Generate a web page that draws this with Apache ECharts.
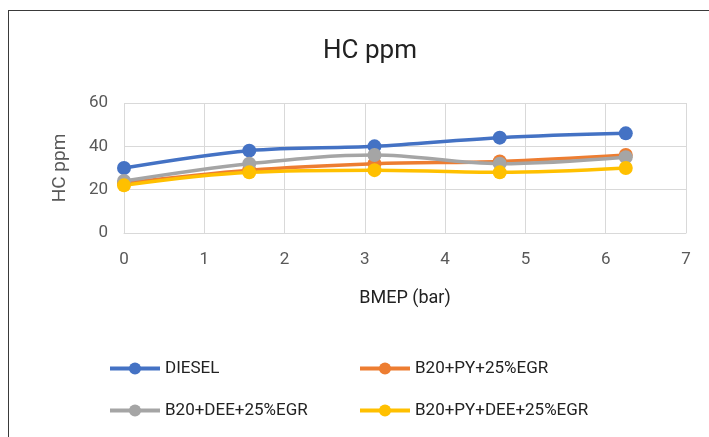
<!DOCTYPE html>
<html>
<head>
<meta charset="utf-8">
<script src="https://cdn.jsdelivr.net/npm/echarts@6/dist/echarts.min.js"></script>
<style>
    html, body { margin: 0; padding: 0; background: #fff; }
    #frame { position: absolute; left: 8px; top: 10px; width: 720px; height: 460px; border: 1.5px solid #3a3a3a; box-sizing: border-box; }
    #content { position: absolute; left: 0; top: 0; width: 709px; height: 437px; }
</style>
</head>
<body>
<div id="frame"></div>
<div id="content"></div>
<script>
// BMEP (bar) 取值
var bmep = [0, 1.56, 3.12, 4.68, 6.25];
var seriesNames = ["DIESEL", "B20+PY+25%EGR", "B20+DEE+25%EGR", "B20+PY+DEE+25%EGR"];
var diesel = [30, 38, 40, 44, 46];
var b20Py = [23, 29, 32, 33, 36];
var b20Dee = [24, 32, 36, 32, 35];
var b20PyDee = [22, 28, 29, 28, 30];
var colors = ["#4472C4", "#ED7D31", "#A5A5A5", "#FFC000"];

var fontName = "Roboto";

function makeSeries(name, values, color) {
    var pts = [];
    for (var i = 0; i < values.length; i++) {
        pts.push([bmep[i], values[i]]);
    }
    return {
        name: name,
        type: "line",
        data: pts,
        smooth: 0.35,
        symbol: "circle",
        symbolSize: 14,
        lineStyle: { width: 3.5, color: color },
        itemStyle: { color: color },
    };
}

// 图例样式（两列）
function makeLegend(names, left) {
    return {
        data: names,
        orient: "vertical",
        left: left,
        top: 360,
        padding: 0,
        itemWidth: 50,
        itemHeight: 15,
        itemGap: 25,
        lineStyle: { width: 4 },
        textStyle: { fontFamily: fontName, fontSize: 17, color: "#222" },
    };
}

var myChart = echarts.init(document.getElementById("content"));
myChart.setOption({
    animation: false,
    title: {
        text: "HC ppm",
        left: 365,
        top: 33,
        textAlign: "center",
        textStyle: { fontFamily: fontName, fontSize: 26, fontWeight: "normal", color: "#222" },
    },
    grid: { left: 124, right: 23, top: 103, bottom: 204 },
    xAxis: {
        type: "value",
        min: 0,
        max: 7,
        interval: 1,
        name: "BMEP (bar)",
        nameLocation: "middle",
        nameGap: 56,
        nameTextStyle: { fontFamily: fontName, fontSize: 18, color: "#222" },
        axisLine: { show: true, lineStyle: { color: "#d9d9d9" } },
        axisTick: { show: false },
        axisLabel: { fontFamily: fontName, fontSize: 17, color: "#595959", margin: 18 },
        splitLine: { show: true, lineStyle: { color: "#d9d9d9" } },
    },
    yAxis: {
        type: "value",
        min: 0,
        max: 60,
        interval: 20,
        name: "HC ppm",
        nameLocation: "middle",
        nameGap: 54,
        nameTextStyle: { fontFamily: fontName, fontSize: 19, color: "#595959" },
        axisLine: { show: false },
        axisTick: { show: false },
        axisLabel: { fontFamily: fontName, fontSize: 17, color: "#595959", margin: 16 },
        splitLine: { show: true, lineStyle: { color: "#d9d9d9" } },
    },
    legend: [
        makeLegend([seriesNames[0], seriesNames[2]], 108),
        makeLegend([seriesNames[1], seriesNames[3]], 358),
    ],
    series: [
        makeSeries(seriesNames[0], diesel, colors[0]),
        makeSeries(seriesNames[1], b20Py, colors[1]),
        makeSeries(seriesNames[2], b20Dee, colors[2]),
        makeSeries(seriesNames[3], b20PyDee, colors[3]),
    ],
});
</script>
</body>
</html>
